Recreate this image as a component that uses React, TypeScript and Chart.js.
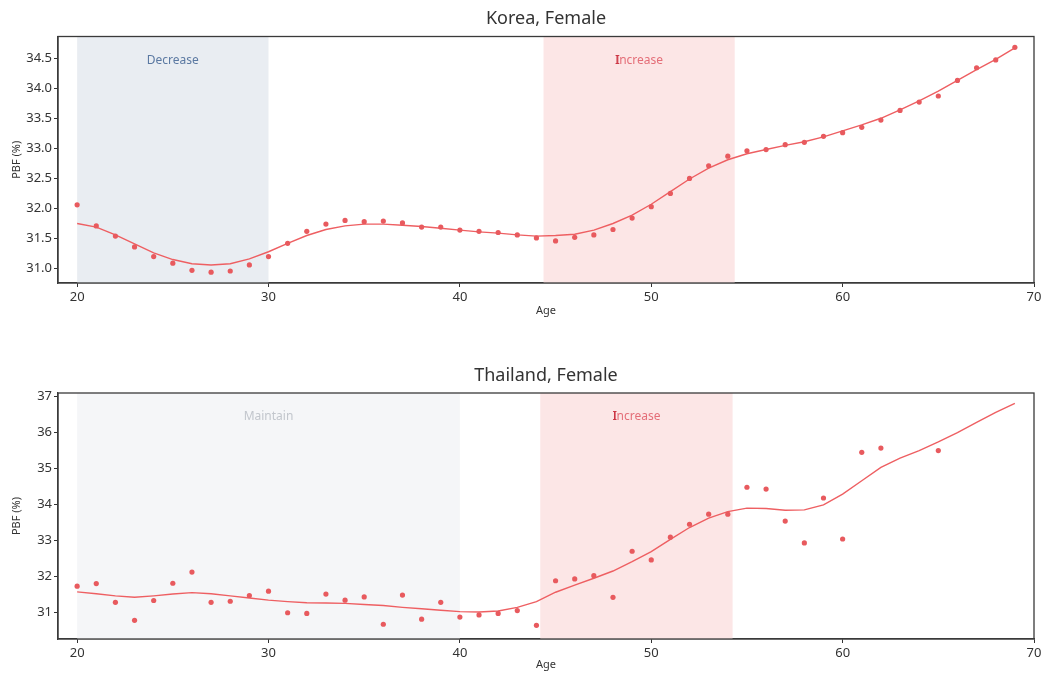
import React, { useEffect, useRef } from "react";
import { Chart, registerables } from "chart.js";
Chart.register(...registerables);

// ---------- data ----------
const ages = [
  20, 21, 22, 23, 24, 25, 26, 27, 28, 29, 30, 31, 32, 33, 34, 35, 36, 37, 38, 39,
  40, 41, 42, 43, 44, 45, 46, 47, 48, 49, 50, 51, 52, 53, 54, 55, 56, 57, 58, 59,
  60, 61, 62, 63, 64, 65, 66, 67, 68, 69,
];

const koreaPoints = [
  32.06, 31.71, 31.54, 31.36, 31.2, 31.09, 30.97, 30.94, 30.96, 31.06,
  31.2, 31.42, 31.62, 31.74, 31.8, 31.78, 31.79, 31.76, 31.69, 31.69,
  31.64, 31.62, 31.6, 31.56, 31.51, 31.46, 31.52, 31.56, 31.65, 31.84,
  32.03, 32.25, 32.5, 32.71, 32.87, 32.96, 32.98, 33.06, 33.1, 33.2,
  33.26, 33.35, 33.47, 33.63, 33.77, 33.87, 34.13, 34.34, 34.47, 34.68,
];

const koreaSmooth = [
  31.75, 31.69, 31.56, 31.41, 31.26, 31.15, 31.08, 31.06, 31.08, 31.16,
  31.28, 31.42, 31.55, 31.65, 31.71, 31.74, 31.74, 31.72, 31.7, 31.67,
  31.64, 31.61, 31.59, 31.56, 31.54, 31.55, 31.57, 31.64, 31.75, 31.89,
  32.07, 32.28, 32.49, 32.67, 32.81, 32.91, 32.98, 33.05, 33.11, 33.19,
  33.29, 33.39, 33.5, 33.64, 33.79, 33.95, 34.13, 34.31, 34.48, 34.67,
];

const thaiPointAges = [
  20, 21, 22, 23, 24, 25, 26, 27, 28, 29, 30, 31, 32, 33, 34, 35, 36, 37, 38, 39,
  40, 41, 42, 43, 44, 45, 46, 47, 48, 49, 50, 51, 52, 53, 54, 55, 56, 57, 58, 59,
  60, 61, 62, 65,
];

const thaiPoints = [
  31.72, 31.79, 31.27, 30.77, 31.32, 31.8, 32.11, 31.27, 31.3, 31.46,
  31.58, 30.98, 30.96, 31.5, 31.33, 31.42, 30.66, 31.47, 30.8, 31.27,
  30.86, 30.92, 30.96, 31.04, 30.63, 31.87, 31.92, 32.01, 31.41, 32.69,
  32.45, 33.08, 33.44, 33.72, 33.72, 34.47, 34.42, 33.53, 32.92, 34.17,
  33.03, 35.44, 35.56, 35.49,
];

const thaiSmooth = [
  31.56, 31.51, 31.45, 31.41, 31.45, 31.5, 31.54, 31.51, 31.45, 31.39,
  31.33, 31.29, 31.26, 31.25, 31.24, 31.21, 31.18, 31.13, 31.09, 31.05,
  31.01, 31.0, 31.03, 31.13, 31.29, 31.55, 31.75, 31.94, 32.14, 32.4,
  32.68, 33.02, 33.35, 33.61, 33.79, 33.89, 33.88, 33.83, 33.84, 33.98,
  34.28, 34.65, 35.02, 35.28, 35.49, 35.73, 35.99, 36.27, 36.55, 36.8,
];

const xTicks = [20, 30, 40, 50, 60, 70];
const koreaYTicks = [31.0, 31.5, 32.0, 32.5, 33.0, 33.5, 34.0, 34.5];
const thaiYTicks = [31, 32, 33, 34, 35, 36, 37];

const koreaRegionLabels = ["Decrease", "Increase"];
const koreaRegionStarts = [20, 44.37];
const koreaRegionEnds = [30, 54.36];

const thaiRegionLabels = ["Maintain", "Increase"];
const thaiRegionStarts = [20, 44.2];
const thaiRegionEnds = [40, 54.25];

// ---------- styles ----------
const FONT = "'Noto Sans', sans-serif";
const REGION_STYLE: Record<string, { fill: string; text: string; first: string }> = {
  Decrease: { fill: "#e9edf2", text: "#5b79a2", first: "#5b79a2" },
  Increase: { fill: "#fce6e6", text: "#e46e78", first: "#cc3644" },
  Maintain: { fill: "#f5f6f8", text: "#c2c6cc", first: "#c2c6cc" },
};

type PanelCfg = {
  title: string;
  pointAges: number[];
  points: number[];
  smooth: number[];
  yMin: number;
  yMax: number;
  yTicks: number[];
  decimals: number;
  labels: string[];
  starts: number[];
  ends: number[];
  height: number;
  padTop: number;
  titleY: number;
  xAxisHeight: number;
  xTitlePadBottom: number;
};

const regionPlugin = {
  id: "regions",
  beforeDatasetsDraw(chart: any, _args: any, opts: any) {
    const { ctx, chartArea } = chart;
    const xs = chart.scales.x;
    ctx.save();
    opts.labels.forEach((lab: string, i: number) => {
      const st = REGION_STYLE[lab];
      const x0 = Math.max(xs.getPixelForValue(opts.starts[i]), chartArea.left);
      const x1 = Math.min(xs.getPixelForValue(opts.ends[i]), chartArea.right);
      ctx.fillStyle = st.fill;
      ctx.fillRect(x0, chartArea.top, x1 - x0, chartArea.bottom - chartArea.top);
      ctx.font = `12px ${FONT}`;
      ctx.textBaseline = "middle";
      ctx.textAlign = "left";
      const w = ctx.measureText(lab).width;
      const cx = (x0 + x1) / 2;
      const y = chartArea.top + 24;
      let sx = cx - w / 2;
      const first = lab.charAt(0);
      const rest = lab.slice(1);
      ctx.fillStyle = st.first;
      ctx.fillText(first, sx, y);
      if (st.first !== st.text) {
        ctx.fillText(first, sx + 0.6, y);
      }
      sx += ctx.measureText(first).width;
      ctx.fillStyle = st.text;
      ctx.fillText(rest, sx, y);
    });
    ctx.restore();
  },
};

const framePlugin = {
  id: "frame",
  afterDatasetsDraw(chart: any, _args: any, opts: any) {
    const { ctx, chartArea } = chart;
    ctx.save();
    ctx.strokeStyle = "#3a3a3a";
    ctx.lineWidth = 1.3;
    ctx.strokeRect(
      chartArea.left,
      chartArea.top,
      chartArea.right - chartArea.left,
      chartArea.bottom - chartArea.top
    );
    ctx.fillStyle = "#333333";
    ctx.font = `18px ${FONT}`;
    ctx.textAlign = "center";
    ctx.textBaseline = "middle";
    ctx.fillText(opts.text, (chartArea.left + chartArea.right) / 2, opts.y);
    ctx.restore();
  },
};

function Panel({ cfg }: { cfg: PanelCfg }) {
  const ref = useRef<HTMLCanvasElement | null>(null);
  useEffect(() => {
    if (!ref.current) return;
    const chart = new Chart(ref.current, {
      type: "scatter",
      data: {
        datasets: [
          {
            label: "fit",
            data: ages.map((a, i) => ({ x: a, y: cfg.smooth[i] })),
            showLine: true,
            borderColor: "#ee5f62",
            borderWidth: 1.4,
            pointRadius: 0,
            tension: 0,
            order: 2,
          },
          {
            label: "observed",
            data: cfg.pointAges.map((a, i) => ({ x: a, y: cfg.points[i] })),
            showLine: false,
            backgroundColor: "#e85a5e",
            borderWidth: 0,
            pointRadius: 2.6,
            order: 1,
          },
        ],
      },
      options: {
        animation: false,
        responsive: false,
        maintainAspectRatio: false,
        layout: { padding: { left: 0, right: 17, top: cfg.padTop, bottom: 0 } },
        plugins: {
          legend: { display: false },
          tooltip: { enabled: false },
          title: { display: false },
          regions: { labels: cfg.labels, starts: cfg.starts, ends: cfg.ends },
          frame: { text: cfg.title, y: cfg.titleY },
        } as any,
        scales: {
          x: {
            type: "linear",
            min: 19,
            max: 70,
            afterBuildTicks: (s: any) => {
              s.ticks = xTicks.map((v) => ({ value: v }));
            },
            afterFit: (s: any) => {
              s.height = cfg.xAxisHeight;
            },
            ticks: {
              color: "#333333",
              font: { family: FONT, size: 13 },
              padding: 2,
              maxRotation: 0,
              autoSkip: false,
              callback: (v: any) => String(v),
            },
            grid: {
              display: true,
              drawOnChartArea: false,
              drawTicks: true,
              tickLength: 4,
              color: "#333333",
            },
            border: { display: true, color: "#3a3a3a", width: 1.3 },
            title: {
              display: true,
              text: "Age",
              color: "#333333",
              font: { family: FONT, size: 11, lineHeight: 1.2 },
              padding: { top: 0, bottom: cfg.xTitlePadBottom },
            },
          },
          y: {
            type: "linear",
            min: cfg.yMin,
            max: cfg.yMax,
            afterBuildTicks: (s: any) => {
              s.ticks = cfg.yTicks.map((v) => ({ value: v }));
            },
            afterFit: (s: any) => {
              s.width = 58;
            },
            ticks: {
              color: "#333333",
              font: { family: FONT, size: 13 },
              padding: 2,
              autoSkip: false,
              callback: (v: any) => Number(v).toFixed(cfg.decimals),
            },
            grid: {
              display: true,
              drawOnChartArea: false,
              drawTicks: true,
              tickLength: 4,
              color: "#333333",
            },
            border: { display: true, color: "#3a3a3a", width: 1.3 },
            title: {
              display: true,
              text: "PBF (%)",
              color: "#333333",
              font: { family: FONT, size: 11, lineHeight: 1.2 },
              padding: { top: 10, bottom: 0 },
            },
          },
        },
      },
      plugins: [regionPlugin, framePlugin],
    });
    return () => chart.destroy();
  }, [cfg]);
  return (
    <canvas
      ref={ref}
      width={1051}
      height={cfg.height}
      style={{ display: "block", width: 1051, height: cfg.height }}
    />
  );
}

const koreaCfg: PanelCfg = {
  title: "Korea, Female",
  pointAges: ages,
  points: koreaPoints,
  smooth: koreaSmooth,
  yMin: 30.76,
  yMax: 34.86,
  yTicks: koreaYTicks,
  decimals: 1,
  labels: koreaRegionLabels,
  starts: koreaRegionStarts,
  ends: koreaRegionEnds,
  height: 336,
  padTop: 36.5,
  titleY: 19,
  xAxisHeight: 53,
  xTitlePadBottom: 18.4,
};

const thaiCfg: PanelCfg = {
  title: "Thailand, Female",
  pointAges: thaiPointAges,
  points: thaiPoints,
  smooth: thaiSmooth,
  yMin: 30.25,
  yMax: 37.09,
  yTicks: thaiYTicks,
  decimals: 0,
  labels: thaiRegionLabels,
  starts: thaiRegionStarts,
  ends: thaiRegionEnds,
  height: 337,
  padTop: 57,
  titleY: 40,
  xAxisHeight: 34,
  xTitlePadBottom: 1.4,
};

export default function App() {
  return (
    <div
      style={{
        position: "absolute",
        left: 0,
        top: 0,
        width: 1051,
        height: 673,
        background: "#ffffff",
      }}
    >
      <Panel cfg={koreaCfg} />
      <Panel cfg={thaiCfg} />
    </div>
  );
}
